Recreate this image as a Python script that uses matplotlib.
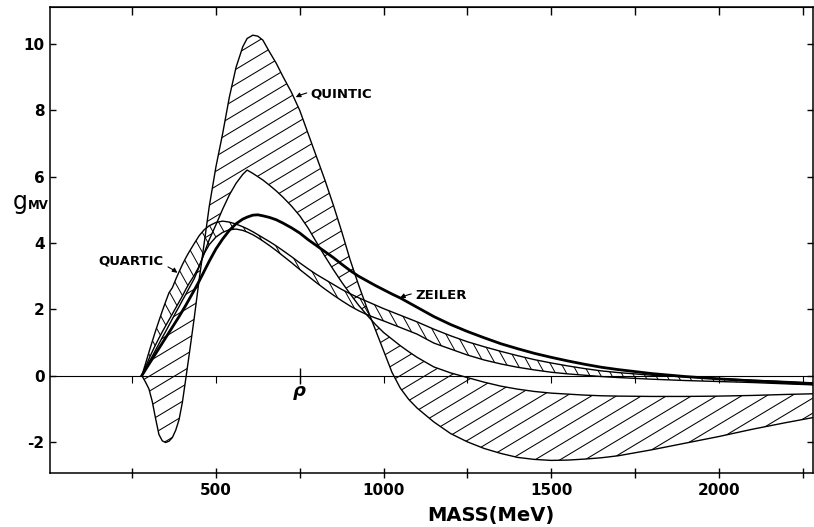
import numpy as np
import matplotlib
matplotlib.use("Agg")
import matplotlib.pyplot as plt
from matplotlib.collections import LineCollection
from matplotlib.markers import TICKDOWN

plt.rcParams['axes.unicode_minus'] = False

W, H = 814, 527

# mass grid (MeV), shared by all curves
masses = [279, 290, 300, 310, 320, 330, 340, 350, 360, 370,
          380, 390, 400, 410, 420, 435, 450, 465, 480, 500,
          520, 540, 560, 580, 593, 610, 625, 640, 660, 680,
          700, 725, 750, 775, 800, 825, 850, 875, 900, 925,
          950, 975, 1000, 1025, 1050, 1075, 1100, 1150, 1200, 1250,
          1300, 1350, 1400, 1450, 1500, 1550, 1600, 1650, 1700, 1800,
          1900, 2000, 2100, 2200, 2280]

# quintic band, edge with the big peak
quintic_a = [0, -0.2, -0.4, -0.78, -1.3, -1.78, -1.97, -2.02, -1.98, -1.87,
             -1.65, -1.33, -0.8, -0.1, 0.62, 1.72, 2.9, 4.0, 5.1, 6.3,
             7.3, 8.4, 9.3, 9.92, 10.17, 10.27, 10.24, 10.12, 9.76, 9.42,
             9.02, 8.55, 8.0, 7.3, 6.6, 5.9, 5.15, 4.35, 3.5, 2.75,
             2.05, 1.4, 0.75, 0.1, -0.38, -0.72, -0.98, -1.4, -1.75, -2.0,
             -2.2, -2.35, -2.47, -2.53, -2.56, -2.55, -2.52, -2.48, -2.42, -2.24,
             -2.04, -1.84, -1.62, -1.42, -1.27]
# quintic band, edge with the pointed peak
quintic_b = [0, 0.21, 0.4, 0.58, 0.77, 0.96, 1.15, 1.33, 1.52, 1.71,
             1.9, 2.08, 2.27, 2.45, 2.64, 2.92, 3.28, 3.7, 4.1, 4.55,
             5.02, 5.45, 5.8, 6.07, 6.2, 6.1, 6.0, 5.9, 5.74, 5.57,
             5.38, 5.12, 4.82, 4.45, 4.02, 3.6, 3.2, 2.82, 2.47, 2.13,
             1.83, 1.55, 1.3, 1.1, 0.9, 0.72, 0.55, 0.26, 0.08, -0.06,
             -0.2, -0.32, -0.41, -0.48, -0.53, -0.56, -0.59, -0.61, -0.62, -0.63,
             -0.63, -0.62, -0.6, -0.57, -0.55]
# quartic band
quartic_hi = [0, 0.36, 0.7, 1.03, 1.35, 1.65, 1.95, 2.23, 2.5, 2.65,
              2.9, 3.13, 3.35, 3.55, 3.73, 3.98, 4.22, 4.4, 4.52, 4.62,
              4.66, 4.63, 4.57, 4.49, 4.43, 4.34, 4.25, 4.16, 4.04, 3.91,
              3.77, 3.59, 3.4, 3.22, 3.05, 2.9, 2.75, 2.6, 2.47, 2.35,
              2.24, 2.13, 2.02, 1.92, 1.82, 1.72, 1.62, 1.4, 1.2, 1.02,
              0.87, 0.73, 0.6, 0.48, 0.38, 0.29, 0.21, 0.14, 0.09, 0.01,
              -0.04, -0.09, -0.14, -0.18, -0.22]
quartic_lo = [0, 0.26, 0.5, 0.72, 0.93, 1.13, 1.32, 1.5, 1.68, 1.86,
              2.04, 2.22, 2.4, 2.6, 2.78, 3.02, 3.3, 3.68, 3.95, 4.18,
              4.32, 4.4, 4.42, 4.38, 4.33, 4.25, 4.16, 4.06, 3.92, 3.77,
              3.61, 3.41, 3.2, 3.0, 2.8, 2.61, 2.43, 2.26, 2.1, 1.96,
              1.84, 1.74, 1.65, 1.55, 1.45, 1.35, 1.25, 0.98, 0.8, 0.62,
              0.47, 0.35, 0.25, 0.17, 0.1, 0.05, 0.01, -0.03, -0.06, -0.11,
              -0.15, -0.18, -0.21, -0.25, -0.28]
zeiler = [0, 0.18, 0.34, 0.5, 0.66, 0.82, 0.98, 1.14, 1.3, 1.46,
          1.62, 1.78, 1.95, 2.12, 2.3, 2.57, 2.85, 3.15, 3.45, 3.82,
          4.12, 4.38, 4.58, 4.72, 4.78, 4.84, 4.85, 4.82, 4.77, 4.7,
          4.6, 4.46, 4.3, 4.1, 3.92, 3.74, 3.56, 3.36, 3.17, 3.0,
          2.86, 2.72, 2.59, 2.46, 2.34, 2.2, 2.06, 1.78, 1.54, 1.33,
          1.14, 0.96, 0.81, 0.67, 0.55, 0.44, 0.34, 0.25, 0.18, 0.06,
          -0.03, -0.1, -0.16, -0.21, -0.25]

axis_ticks = [250, 500, 750, 1000, 1250, 1500, 1750, 2000, 2250]
x_labels = [500, 1000, 1500, 2000]
y_ticks = [-2, 0, 2, 4, 6, 8, 10]
rho_mass = 750

fig = plt.figure(figsize=(W / 100, H / 100), dpi=100)
ax = fig.add_axes([50 / W, 1 - 473 / H, 763 / W, 466 / H])
ax.set_xlim(5, 2281)
ax.set_ylim(-2.94, 11.12)


def hatch(xs, ya, yb, slope_px, step_px, lw=0.75):
    # hatch lines at a given on-screen slope, clipped to the band
    poly = ax.fill_between(xs, ya, yb, facecolor='none', edgecolor='none', lw=0)
    path = poly.get_paths()[0]
    x0, x1 = ax.get_xlim()
    y0, y1 = ax.get_ylim()
    pos = ax.get_position()
    sx = pos.width * W / (x1 - x0)
    sy = pos.height * H / (y1 - y0)
    m = slope_px * sx / sy
    dc = step_px / sy
    cs = [y0 - m * x0, y0 - m * x1, y1 - m * x0, y1 - m * x1]
    segs = [[(x0, m * x0 + c), (x1, m * x1 + c)]
            for c in np.arange(min(cs), max(cs), dc)]
    lc = LineCollection(segs, colors='k', linewidths=lw)
    ax.add_collection(lc)
    lc.set_clip_path(path, ax.transData)


hatch(masses, quintic_a, quintic_b, 0.6, 15)
hatch(masses, quartic_hi, quartic_lo, -1.8, 1.8 * 11, lw=0.7)

ax.plot(masses, quintic_a, color='k', lw=1.0)
ax.plot(masses, quintic_b, color='k', lw=1.0)
ax.plot(masses, quartic_hi, color='k', lw=1.0)
ax.plot(masses, quartic_lo, color='k', lw=1.0)
ax.plot(masses, zeiler, color='k', lw=2.0)

# zero line with its own small ticks
ax.axhline(0, color='k', lw=0.8)
ax.plot(axis_ticks, [0] * len(axis_ticks), ls='none', marker=TICKDOWN,
        color='k', markersize=5, mew=0.8)
ax.plot([rho_mass], [0], ls='none', marker='|', color='k', markersize=11, mew=1.0)
ax.text(rho_mass, -0.47, 'ρ', ha='center', va='center', fontsize=13,
        fontstyle='italic', fontweight='bold')

for s in ax.spines.values():
    s.set_linewidth(1.1)

ax.set_xticks(x_labels)
ax.set_xticks(axis_ticks, minor=True)
ax.set_yticks(y_ticks)
ax.tick_params(axis='x', which='both', direction='inout', length=7, width=1,
               labelsize=11, pad=4)
ax.tick_params(axis='y', direction='in', length=4, width=1, labelsize=11,
               pad=4, right=True)
for lab in ax.get_xticklabels() + ax.get_yticklabels():
    lab.set_fontweight('bold')

top = ax.secondary_xaxis('top')
top.set_xticks(axis_ticks)
top.set_xticklabels([])
top.tick_params(direction='in', length=6, width=1)

kw = dict(fontsize=9.5, fontweight='bold', va='center')
ax.annotate('QUINTIC', xy=(738, 8.4), xytext=(783, 8.5), ha='left',
            arrowprops=dict(arrowstyle='-|>', lw=0.8, color='k', mutation_scale=7,
                            shrinkA=1, shrinkB=0, connectionstyle='arc3,rad=0.2'), **kw)
ax.annotate('ZEILER', xy=(1049, 2.34), xytext=(1095, 2.42), ha='left',
            arrowprops=dict(arrowstyle='-|>', lw=0.8, color='k', mutation_scale=7,
                            shrinkA=1, shrinkB=0, connectionstyle='arc3,rad=0.2'), **kw)
ax.annotate('QUARTIC', xy=(385, 3.1), xytext=(345, 3.47), ha='right',
            arrowprops=dict(arrowstyle='-|>', lw=0.8, color='k', mutation_scale=7,
                            shrinkA=1, shrinkB=0, connectionstyle='arc3,rad=-0.2'), **kw)

fig.text(13 / W, 1 - 209 / H, 'g', fontsize=17, ha='left', va='baseline')
fig.text(28 / W, 1 - 209 / H, 'MV', fontsize=8.5, fontweight='bold', ha='left',
         va='baseline')
fig.text(491 / W, 1 - 515 / H, 'MASS(MeV)', fontsize=14, fontweight='bold',
         ha='center', va='center')

fig.savefig('out.png', dpi=100)
